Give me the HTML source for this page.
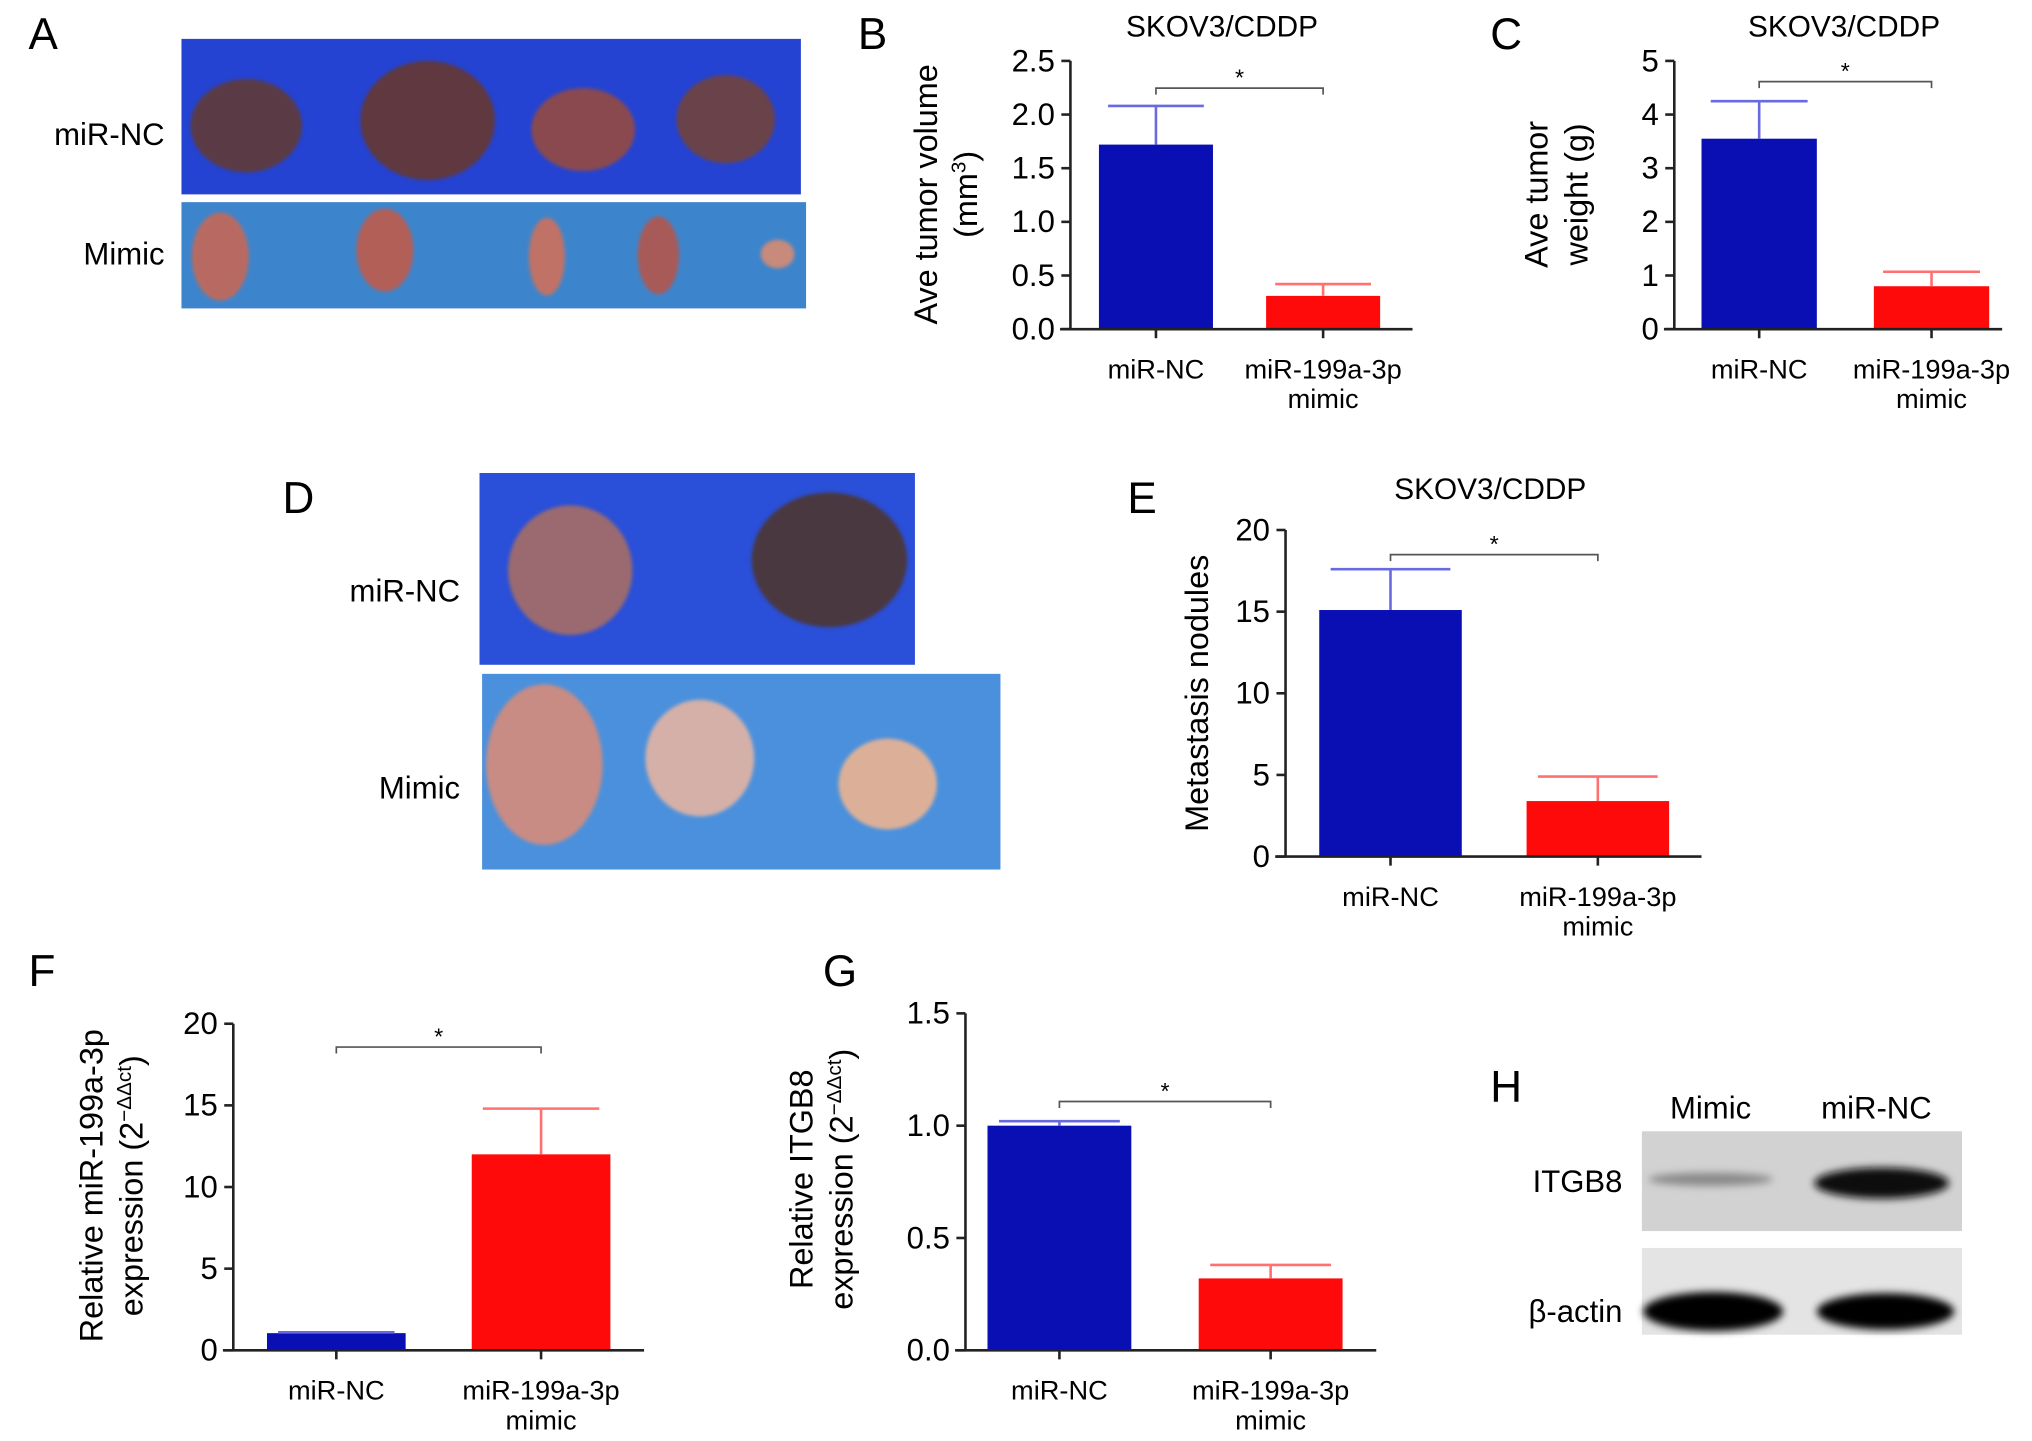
<!DOCTYPE html>
<html><head><meta charset="utf-8"><style>
html,body{margin:0;padding:0;background:#fff;width:2032px;height:1441px;overflow:hidden}
svg{display:block;font-family:"Liberation Sans",sans-serif}
</style></head><body>
<svg id="fig" width="2032" height="1441" viewBox="0 0 1568 1112" xmlns="http://www.w3.org/2000/svg">
<defs>
<filter id="blur2"><feGaussianBlur stdDeviation="3"/></filter>
<filter id="blur1"><feGaussianBlur stdDeviation="1.5"/></filter>
</defs>
<!-- Panel A -->
<g>
<text x="22" y="38" font-size="34">A</text>
<rect x="140" y="30" width="478" height="120" fill="#2443d2"/>
<g filter="url(#blur1)">
<ellipse cx="190" cy="97" rx="43" ry="36" fill="#5a3a44"/>
<ellipse cx="330" cy="93" rx="52" ry="46" fill="#5e3840"/>
<ellipse cx="450" cy="100" rx="40" ry="32" fill="#8a4a50"/>
<ellipse cx="560" cy="92" rx="38" ry="34" fill="#6a4248"/>
</g>
<rect x="140" y="156" width="482" height="82" fill="#3c85cc"/>
<g filter="url(#blur1)">
<ellipse cx="170" cy="198" rx="22" ry="34" fill="#b86a62"/>
<ellipse cx="297" cy="193" rx="22" ry="32" fill="#b25e58"/>
<ellipse cx="422" cy="198" rx="14" ry="30" fill="#c07266"/>
<ellipse cx="508" cy="197" rx="16" ry="30" fill="#a85a58"/>
<ellipse cx="600" cy="196" rx="13" ry="11" fill="#c88a7a"/>
</g>
<text x="127" y="112" font-size="24" text-anchor="end">miR-NC</text>
<text x="127" y="204" font-size="24" text-anchor="end">Mimic</text>
</g>
<!-- Panel D -->
<g>
<text x="218" y="396" font-size="34">D</text>
<rect x="370" y="365" width="336" height="148" fill="#2a4fd8"/>
<g filter="url(#blur1)">
<ellipse cx="440" cy="440" rx="48" ry="50" fill="#9a6a70"/>
<ellipse cx="640" cy="432" rx="60" ry="52" fill="#4a3840"/>
</g>
<rect x="372" y="520" width="400" height="151" fill="#4b90dc"/>
<g filter="url(#blur1)">
<ellipse cx="420" cy="590" rx="45" ry="62" fill="#c88c84"/>
<ellipse cx="540" cy="585" rx="42" ry="45" fill="#d4b0a8"/>
<ellipse cx="685" cy="605" rx="38" ry="35" fill="#dcb098"/>
</g>
<text x="355" y="464" font-size="24" text-anchor="end">miR-NC</text>
<text x="355" y="616" font-size="24" text-anchor="end">Mimic</text>
</g>
<!-- Panel H -->
<g>
<text x="1150" y="850" font-size="34">H</text>
<text x="1320" y="863" font-size="24" text-anchor="middle">Mimic</text>
<text x="1448" y="863" font-size="24" text-anchor="middle">miR-NC</text>
<rect x="1267" y="873" width="247" height="77" fill="#d2d2d2"/>
<rect x="1267" y="963" width="247" height="67" fill="#e4e4e4"/>
<g filter="url(#blur2)">
<ellipse cx="1320" cy="910" rx="48" ry="5" fill="#888"/>
<ellipse cx="1452" cy="913" rx="52" ry="12" fill="#111"/>
<ellipse cx="1322" cy="1012" rx="54" ry="15" fill="#050505"/>
<ellipse cx="1455" cy="1012" rx="53" ry="14" fill="#050505"/>
</g>
<text x="1252" y="920" font-size="24" text-anchor="end">ITGB8</text>
<text x="1252" y="1020" font-size="24" text-anchor="end">β-actin</text>
</g>
<g id="charts"></g>
</svg>
<script>
// Chart B
const bCats = ["miR-NC", "miR-199a-3p|mimic"];
const bVals = [1.72, 0.31];
const bErrs = [0.36, 0.11];
const bTicks = ["0.0","0.5","1.0","1.5","2.0","2.5"];
// Chart C
const cCats = ["miR-NC", "miR-199a-3p|mimic"];
const cVals = [3.55, 0.80];
const cErrs = [0.70, 0.27];
const cTicks = ["0","1","2","3","4","5"];
// Chart E
const eCats = ["miR-NC", "miR-199a-3p|mimic"];
const eVals = [15.1, 3.4];
const eErrs = [2.5, 1.5];
const eTicks = ["0","5","10","15","20"];
// Chart F
const fCats = ["miR-NC", "miR-199a-3p|mimic"];
const fVals = [1.05, 12.0];
const fErrs = [0.05, 2.8];
const fTicks = ["0","5","10","15","20"];
// Chart G
const gCats = ["miR-NC", "miR-199a-3p|mimic"];
const gVals = [1.0, 0.32];
const gErrs = [0.02, 0.06];
const gTicks = ["0.0","0.5","1.0","1.5"];

const NS = "http://www.w3.org/2000/svg";
const root = document.getElementById("charts");
function mk(tag, attrs, parent) {
  const e = document.createElementNS(NS, tag);
  for (const k in attrs) e.setAttribute(k, attrs[k]);
  (parent || root).appendChild(e);
  return e;
}
const colors = ["#0a0fb4", "#ff0a0a"];
const errColors = ["#6a6ae0", "#ff7070"];

function chart(cfg, cats, vals, errs, ticks) {
  const g = mk("g", {});
  
  
  const tmin = parseFloat(ticks[0]), tmax = parseFloat(ticks[ticks.length - 1]);
  const y = v => cfg.y0 - (v - tmin) / (tmax - tmin) * (cfg.y0 - cfg.y1);
  const n = cats.length;
  const xc = i => cfg.bx[i] + cfg.bw / 2;
  const L = mk("text", {x: cfg.lx, y: cfg.ly, "font-size": 34}, g);
  L.textContent = cfg.letter;
  
  
  if (cfg.title) {
    const t = mk("text", {x: cfg.tx, y: cfg.ty, "font-size": 23, "text-anchor": "middle"}, g);
    t.textContent = cfg.title;
    
    
  }
  for (let i = 0; i < n; i++) {
    const top = y(vals[i]);
    const r = mk("rect", {x: cfg.bx[i], y: top, width: cfg.bw, height: cfg.y0 - top, fill: colors[i]}, g);
    
    
    const et = y(vals[i] + errs[i]);
    const el = mk("path", {d: `M${xc(i)},${top}V${et}M${xc(i) - cfg.bw * 0.42},${et}H${xc(i) + cfg.bw * 0.42}`, stroke: errColors[i], "stroke-width": 2, fill: "none"}, g);
    
    
  }
  const ya = mk("path", {d: `M${cfg.ax},${cfg.y1}V${cfg.y0}`, stroke: "#222", "stroke-width": 2}, g);
  
  
  const xa = mk("path", {d: `M${cfg.ax - 8},${cfg.y0}H${cfg.xend}`, stroke: "#222", "stroke-width": 2}, g);
  
  
  ticks.forEach(tk => {
    const ty = y(parseFloat(tk));
    mk("path", {d: `M${cfg.ax - 7},${ty}H${cfg.ax}`, stroke: "#222", "stroke-width": 2}, g);
    const t = mk("text", {x: cfg.ax - 12, y: ty + 8, "font-size": 24, "text-anchor": "end"}, g);
    t.textContent = tk;
    
    
  });
  for (let i = 0; i < n; i++) {
    mk("path", {d: `M${xc(i)},${cfg.y0}V${cfg.y0 + 7}`, stroke: "#222", "stroke-width": 2}, g);
    cats[i].split("|").forEach((ln, j) => {
      const t = mk("text", {x: xc(i), y: cfg.y0 + 38 + j * 23, "font-size": 21, "text-anchor": "middle"}, g);
      t.textContent = ln;
      
      
    });
  }
  const br = mk("path", {d: `M${xc(0)},${cfg.by + 5}V${cfg.by}H${xc(1)}V${cfg.by + 5}`, stroke: "#555", "stroke-width": 1.3, fill: "none"}, g);
  
  
  const st = mk("text", {x: (xc(0) + xc(1)) / 2, y: cfg.by - 2, "font-size": 18, "text-anchor": "middle"}, g);
  st.textContent = "*";
  
  
  cfg.ylab.forEach((ln, j) => {
    const cx = cfg.ylx + j * 31;
    const t = mk("text", {x: cx, y: cfg.yly, "font-size": 25, "text-anchor": "middle", transform: `rotate(-90 ${cx} ${cfg.yly})`}, g);
    t.innerHTML = ln;
    
    
  });
}

chart({name: "chart-b", letter: "B", lx: 662, ly: 38, title: "SKOV3/CDDP", tx: 943, ty: 28,
  ax: 826, y0: 254, y1: 47, xend: 1090, bx: [848, 977], bw: 88, by: 68,
  ylab: ["Ave tumor volume", "(mm<tspan font-size='16' dy='-9'>3</tspan><tspan dy='9'>)</tspan>"], ylx: 723, yly: 150}, bCats, bVals, bErrs, bTicks);
chart({name: "chart-c", letter: "C", lx: 1150, ly: 38, title: "SKOV3/CDDP", tx: 1423, ty: 28,
  ax: 1292, y0: 254, y1: 47, xend: 1545, bx: [1313, 1446], bw: 89, by: 63,
  ylab: ["Ave tumor", "weight (g)"], ylx: 1194, yly: 150}, cCats, cVals, cErrs, cTicks);
chart({name: "chart-e", letter: "E", lx: 870, ly: 396, title: "SKOV3/CDDP", tx: 1150, ty: 385,
  ax: 992, y0: 661, y1: 409, xend: 1313, bx: [1018, 1178], bw: 110, by: 428,
  ylab: ["Metastasis nodules"], ylx: 932, yly: 535}, eCats, eVals, eErrs, eTicks);
chart({name: "chart-f", letter: "F", lx: 22, ly: 761, title: null,
  ax: 180, y0: 1042, y1: 790, xend: 497, bx: [206, 364], bw: 107, by: 808,
  ylab: ["Relative miR-199a-3p", "expression (2<tspan font-size='16' dy='-9'>−ΔΔct</tspan><tspan dy='9'>)</tspan>"], ylx: 79, yly: 915}, fCats, fVals, fErrs, fTicks);
chart({name: "chart-g", letter: "G", lx: 635, ly: 761, title: null,
  ax: 745, y0: 1042, y1: 782, xend: 1062, bx: [762, 925], bw: 111, by: 850,
  ylab: ["Relative ITGB8", "expression (2<tspan font-size='16' dy='-9'>−ΔΔct</tspan><tspan dy='9'>)</tspan>"], ylx: 627, yly: 910}, gCats, gVals, gErrs, gTicks);
</script>
</body></html>
